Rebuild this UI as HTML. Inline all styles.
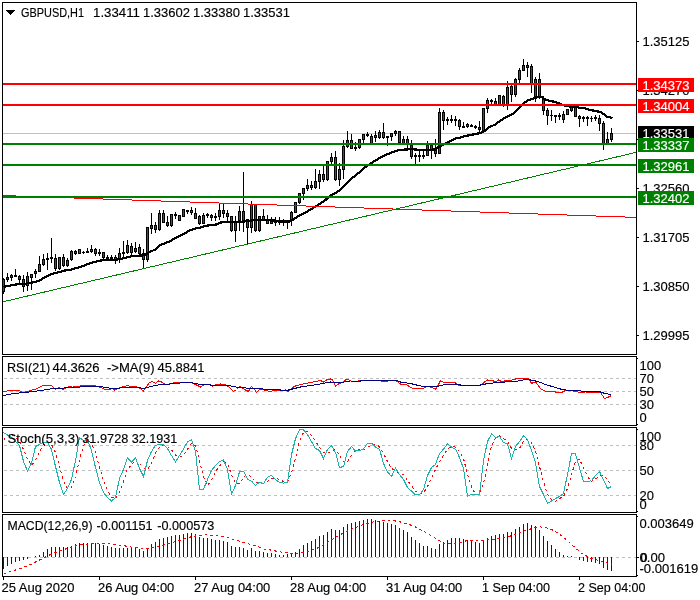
<!DOCTYPE html>
<html><head><meta charset="utf-8"><title>GBPUSD,H1</title>
<style>html,body{margin:0;padding:0;background:#fff}svg{display:block}text{font-family:"Liberation Sans",sans-serif;font-size:13px;fill:#000;stroke:#000;stroke-width:.15px}.w{fill:#fff;stroke:#fff}</style>
</head><body>
<svg width="700" height="600" viewBox="0 0 700 600">
<rect width="700" height="600" fill="#fff"/>
<g shape-rendering="crispEdges">
<rect x="2.5" y="2.5" width="634" height="352" fill="none" stroke="#000" stroke-width="1"/>
<rect x="2.5" y="356.5" width="634" height="69" fill="none" stroke="#000" stroke-width="1"/>
<rect x="2.5" y="427.5" width="634" height="85" fill="none" stroke="#000" stroke-width="1"/>
<rect x="2.5" y="514.5" width="634" height="62" fill="none" stroke="#000" stroke-width="1"/>
<rect x="3" y="133" width="633" height="1" fill="#c0c0c0"/>
<line x1="4" y1="378.5" x2="636" y2="378.5" stroke="#c0c0c0" stroke-width="1" stroke-dasharray="3 3"/>
<line x1="4" y1="391.5" x2="636" y2="391.5" stroke="#c0c0c0" stroke-width="1" stroke-dasharray="3 3"/>
<line x1="4" y1="404.5" x2="636" y2="404.5" stroke="#c0c0c0" stroke-width="1" stroke-dasharray="3 3"/>
<line x1="4" y1="445.5" x2="636" y2="445.5" stroke="#c0c0c0" stroke-width="1" stroke-dasharray="3 3"/>
<line x1="4" y1="470.5" x2="636" y2="470.5" stroke="#c0c0c0" stroke-width="1" stroke-dasharray="3 3"/>
<line x1="4" y1="495.5" x2="636" y2="495.5" stroke="#c0c0c0" stroke-width="1" stroke-dasharray="3 3"/>
<line x1="4" y1="557.5" x2="636" y2="557.5" stroke="#c0c0c0" stroke-width="1" stroke-dasharray="3 3"/>
<rect x="3" y="278" width="1" height="16"/>
<rect x="2" y="279" width="3" height="13"/>
<rect x="3" y="280" width="1" height="11" fill="#008000"/>
<rect x="7" y="273" width="1" height="9"/>
<rect x="6" y="277" width="3" height="3"/>
<rect x="7" y="278" width="1" height="1" fill="#008000"/>
<rect x="11" y="274" width="1" height="7"/>
<rect x="10" y="275" width="3" height="3"/>
<rect x="11" y="276" width="1" height="1" fill="#008000"/>
<rect x="15" y="269" width="1" height="8"/>
<rect x="14" y="275" width="3" height="2"/>
<rect x="19" y="275" width="1" height="8"/>
<rect x="18" y="276" width="3" height="4"/>
<rect x="19" y="277" width="1" height="2" fill="#ff0000"/>
<rect x="23" y="275" width="1" height="17"/>
<rect x="22" y="279" width="3" height="8"/>
<rect x="23" y="280" width="1" height="6" fill="#ff0000"/>
<rect x="27" y="272" width="1" height="19"/>
<rect x="26" y="276" width="3" height="10"/>
<rect x="27" y="277" width="1" height="8" fill="#008000"/>
<rect x="31" y="274" width="1" height="16"/>
<rect x="30" y="274" width="3" height="4"/>
<rect x="31" y="275" width="1" height="2" fill="#008000"/>
<rect x="35" y="269" width="1" height="9"/>
<rect x="34" y="271" width="3" height="3"/>
<rect x="35" y="272" width="1" height="1" fill="#008000"/>
<rect x="39" y="256" width="1" height="16"/>
<rect x="38" y="264" width="3" height="8"/>
<rect x="39" y="265" width="1" height="6" fill="#008000"/>
<rect x="43" y="254" width="1" height="12"/>
<rect x="42" y="259" width="3" height="6"/>
<rect x="43" y="260" width="1" height="4" fill="#008000"/>
<rect x="47" y="253" width="1" height="17"/>
<rect x="46" y="258" width="3" height="2"/>
<rect x="51" y="238" width="1" height="25"/>
<rect x="50" y="257" width="3" height="2"/>
<rect x="55" y="254" width="1" height="17"/>
<rect x="54" y="258" width="3" height="11"/>
<rect x="55" y="259" width="1" height="9" fill="#ff0000"/>
<rect x="59" y="257" width="1" height="13"/>
<rect x="58" y="257" width="3" height="12"/>
<rect x="59" y="258" width="1" height="10" fill="#008000"/>
<rect x="63" y="254" width="1" height="13"/>
<rect x="62" y="257" width="3" height="9"/>
<rect x="63" y="258" width="1" height="7" fill="#ff0000"/>
<rect x="67" y="258" width="1" height="9"/>
<rect x="66" y="260" width="3" height="6"/>
<rect x="67" y="261" width="1" height="4" fill="#008000"/>
<rect x="71" y="250" width="1" height="11"/>
<rect x="70" y="251" width="3" height="9"/>
<rect x="71" y="252" width="1" height="7" fill="#008000"/>
<rect x="75" y="250" width="1" height="5"/>
<rect x="74" y="251" width="3" height="3"/>
<rect x="75" y="252" width="1" height="1" fill="#ff0000"/>
<rect x="79" y="249" width="1" height="5"/>
<rect x="78" y="249" width="3" height="5"/>
<rect x="79" y="250" width="1" height="3" fill="#008000"/>
<rect x="83" y="251" width="1" height="3"/>
<rect x="82" y="252" width="3" height="1"/>
<rect x="87" y="248" width="1" height="5"/>
<rect x="86" y="251" width="3" height="2"/>
<rect x="91" y="245" width="1" height="8"/>
<rect x="90" y="249" width="3" height="3"/>
<rect x="91" y="250" width="1" height="1" fill="#008000"/>
<rect x="95" y="248" width="1" height="8"/>
<rect x="94" y="249" width="3" height="5"/>
<rect x="95" y="250" width="1" height="3" fill="#ff0000"/>
<rect x="99" y="249" width="1" height="7"/>
<rect x="98" y="252" width="3" height="2"/>
<rect x="103" y="252" width="1" height="7"/>
<rect x="102" y="252" width="3" height="6"/>
<rect x="103" y="253" width="1" height="4" fill="#ff0000"/>
<rect x="107" y="255" width="1" height="4"/>
<rect x="106" y="257" width="3" height="2"/>
<rect x="111" y="255" width="1" height="4"/>
<rect x="110" y="257" width="3" height="2"/>
<rect x="115" y="255" width="1" height="9"/>
<rect x="114" y="257" width="3" height="3"/>
<rect x="115" y="258" width="1" height="1" fill="#ff0000"/>
<rect x="119" y="248" width="1" height="15"/>
<rect x="118" y="253" width="3" height="6"/>
<rect x="119" y="254" width="1" height="4" fill="#008000"/>
<rect x="123" y="241" width="1" height="18"/>
<rect x="122" y="252" width="3" height="2"/>
<rect x="127" y="240" width="1" height="14"/>
<rect x="126" y="245" width="3" height="8"/>
<rect x="127" y="246" width="1" height="6" fill="#008000"/>
<rect x="131" y="243" width="1" height="13"/>
<rect x="130" y="246" width="3" height="7"/>
<rect x="131" y="247" width="1" height="5" fill="#ff0000"/>
<rect x="135" y="242" width="1" height="11"/>
<rect x="134" y="248" width="3" height="4"/>
<rect x="135" y="249" width="1" height="2" fill="#008000"/>
<rect x="139" y="244" width="1" height="12"/>
<rect x="138" y="247" width="3" height="7"/>
<rect x="139" y="248" width="1" height="5" fill="#ff0000"/>
<rect x="143" y="249" width="1" height="20"/>
<rect x="142" y="253" width="3" height="7"/>
<rect x="143" y="254" width="1" height="5" fill="#ff0000"/>
<rect x="147" y="227" width="1" height="35"/>
<rect x="146" y="227" width="3" height="33"/>
<rect x="147" y="228" width="1" height="31" fill="#008000"/>
<rect x="151" y="213" width="1" height="21"/>
<rect x="150" y="225" width="3" height="4"/>
<rect x="151" y="226" width="1" height="2" fill="#008000"/>
<rect x="155" y="222" width="1" height="11"/>
<rect x="154" y="225" width="3" height="5"/>
<rect x="155" y="226" width="1" height="3" fill="#ff0000"/>
<rect x="159" y="210" width="1" height="21"/>
<rect x="158" y="213" width="3" height="17"/>
<rect x="159" y="214" width="1" height="15" fill="#008000"/>
<rect x="163" y="210" width="1" height="13"/>
<rect x="162" y="213" width="3" height="10"/>
<rect x="163" y="214" width="1" height="8" fill="#ff0000"/>
<rect x="167" y="216" width="1" height="11"/>
<rect x="166" y="222" width="3" height="4"/>
<rect x="167" y="223" width="1" height="2" fill="#ff0000"/>
<rect x="171" y="214" width="1" height="13"/>
<rect x="170" y="214" width="3" height="12"/>
<rect x="171" y="215" width="1" height="10" fill="#008000"/>
<rect x="175" y="212" width="1" height="7"/>
<rect x="174" y="214" width="3" height="2"/>
<rect x="179" y="215" width="1" height="6"/>
<rect x="178" y="215" width="3" height="6"/>
<rect x="179" y="216" width="1" height="4" fill="#008000"/>
<rect x="183" y="209" width="1" height="8"/>
<rect x="182" y="209" width="3" height="8"/>
<rect x="183" y="210" width="1" height="6" fill="#008000"/>
<rect x="187" y="210" width="1" height="4"/>
<rect x="186" y="210" width="3" height="2"/>
<rect x="191" y="207" width="1" height="8"/>
<rect x="190" y="210" width="3" height="3"/>
<rect x="191" y="211" width="1" height="1" fill="#ff0000"/>
<rect x="195" y="208" width="1" height="11"/>
<rect x="194" y="213" width="3" height="6"/>
<rect x="195" y="214" width="1" height="4" fill="#ff0000"/>
<rect x="199" y="215" width="1" height="10"/>
<rect x="198" y="216" width="3" height="8"/>
<rect x="199" y="217" width="1" height="6" fill="#ff0000"/>
<rect x="203" y="213" width="1" height="11"/>
<rect x="202" y="215" width="3" height="9"/>
<rect x="203" y="216" width="1" height="7" fill="#008000"/>
<rect x="207" y="213" width="1" height="5"/>
<rect x="206" y="214" width="3" height="2"/>
<rect x="211" y="214" width="1" height="7"/>
<rect x="210" y="215" width="3" height="3"/>
<rect x="211" y="216" width="1" height="1" fill="#ff0000"/>
<rect x="215" y="213" width="1" height="8"/>
<rect x="214" y="216" width="3" height="2"/>
<rect x="219" y="204" width="1" height="16"/>
<rect x="218" y="210" width="3" height="7"/>
<rect x="219" y="211" width="1" height="5" fill="#008000"/>
<rect x="223" y="204" width="1" height="14"/>
<rect x="222" y="210" width="3" height="4"/>
<rect x="223" y="211" width="1" height="2" fill="#ff0000"/>
<rect x="227" y="210" width="1" height="11"/>
<rect x="226" y="213" width="3" height="4"/>
<rect x="227" y="214" width="1" height="2" fill="#ff0000"/>
<rect x="231" y="216" width="1" height="16"/>
<rect x="230" y="216" width="3" height="15"/>
<rect x="231" y="217" width="1" height="13" fill="#ff0000"/>
<rect x="235" y="216" width="1" height="26"/>
<rect x="234" y="222" width="3" height="9"/>
<rect x="235" y="223" width="1" height="7" fill="#008000"/>
<rect x="239" y="206" width="1" height="25"/>
<rect x="238" y="211" width="3" height="10"/>
<rect x="239" y="212" width="1" height="8" fill="#008000"/>
<rect x="243" y="172" width="1" height="60"/>
<rect x="242" y="211" width="3" height="10"/>
<rect x="243" y="212" width="1" height="8" fill="#ff0000"/>
<rect x="247" y="219" width="1" height="25"/>
<rect x="246" y="219" width="3" height="9"/>
<rect x="247" y="220" width="1" height="7" fill="#ff0000"/>
<rect x="251" y="201" width="1" height="32"/>
<rect x="250" y="204" width="3" height="24"/>
<rect x="251" y="205" width="1" height="22" fill="#008000"/>
<rect x="255" y="204" width="1" height="28"/>
<rect x="254" y="204" width="3" height="27"/>
<rect x="255" y="205" width="1" height="25" fill="#ff0000"/>
<rect x="259" y="216" width="1" height="16"/>
<rect x="258" y="216" width="3" height="15"/>
<rect x="259" y="217" width="1" height="13" fill="#008000"/>
<rect x="263" y="209" width="1" height="11"/>
<rect x="262" y="216" width="3" height="4"/>
<rect x="263" y="217" width="1" height="2" fill="#ff0000"/>
<rect x="267" y="215" width="1" height="9"/>
<rect x="266" y="220" width="3" height="4"/>
<rect x="267" y="221" width="1" height="2" fill="#ff0000"/>
<rect x="271" y="217" width="1" height="7"/>
<rect x="270" y="221" width="3" height="3"/>
<rect x="271" y="222" width="1" height="1" fill="#008000"/>
<rect x="275" y="217" width="1" height="9"/>
<rect x="274" y="221" width="3" height="2"/>
<rect x="279" y="217" width="1" height="8"/>
<rect x="278" y="220" width="3" height="3"/>
<rect x="283" y="219" width="1" height="7"/>
<rect x="282" y="221" width="3" height="2"/>
<rect x="287" y="221" width="1" height="8"/>
<rect x="286" y="221" width="3" height="2"/>
<rect x="291" y="211" width="1" height="15"/>
<rect x="290" y="212" width="3" height="9"/>
<rect x="291" y="213" width="1" height="7" fill="#008000"/>
<rect x="295" y="202" width="1" height="11"/>
<rect x="294" y="202" width="3" height="11"/>
<rect x="295" y="203" width="1" height="9" fill="#008000"/>
<rect x="299" y="193" width="1" height="11"/>
<rect x="298" y="193" width="3" height="10"/>
<rect x="299" y="194" width="1" height="8" fill="#008000"/>
<rect x="303" y="188" width="1" height="12"/>
<rect x="302" y="188" width="3" height="6"/>
<rect x="303" y="189" width="1" height="4" fill="#008000"/>
<rect x="307" y="179" width="1" height="12"/>
<rect x="306" y="185" width="3" height="4"/>
<rect x="307" y="186" width="1" height="2" fill="#008000"/>
<rect x="311" y="181" width="1" height="9"/>
<rect x="310" y="185" width="3" height="3"/>
<rect x="311" y="186" width="1" height="1" fill="#ff0000"/>
<rect x="315" y="169" width="1" height="20"/>
<rect x="314" y="181" width="3" height="7"/>
<rect x="315" y="182" width="1" height="5" fill="#008000"/>
<rect x="319" y="170" width="1" height="19"/>
<rect x="318" y="174" width="3" height="8"/>
<rect x="319" y="175" width="1" height="6" fill="#008000"/>
<rect x="323" y="166" width="1" height="16"/>
<rect x="322" y="174" width="3" height="6"/>
<rect x="323" y="175" width="1" height="4" fill="#ff0000"/>
<rect x="327" y="161" width="1" height="20"/>
<rect x="326" y="161" width="3" height="19"/>
<rect x="327" y="162" width="1" height="17" fill="#008000"/>
<rect x="331" y="153" width="1" height="11"/>
<rect x="330" y="157" width="3" height="5"/>
<rect x="331" y="158" width="1" height="3" fill="#008000"/>
<rect x="335" y="151" width="1" height="30"/>
<rect x="334" y="157" width="3" height="23"/>
<rect x="335" y="158" width="1" height="21" fill="#ff0000"/>
<rect x="339" y="163" width="1" height="23"/>
<rect x="338" y="169" width="3" height="11"/>
<rect x="339" y="170" width="1" height="9" fill="#008000"/>
<rect x="343" y="140" width="1" height="39"/>
<rect x="342" y="146" width="3" height="24"/>
<rect x="343" y="147" width="1" height="22" fill="#008000"/>
<rect x="347" y="131" width="1" height="17"/>
<rect x="346" y="140" width="3" height="7"/>
<rect x="347" y="141" width="1" height="5" fill="#008000"/>
<rect x="351" y="134" width="1" height="15"/>
<rect x="350" y="140" width="3" height="9"/>
<rect x="351" y="141" width="1" height="7" fill="#ff0000"/>
<rect x="355" y="142" width="1" height="9"/>
<rect x="354" y="147" width="3" height="2"/>
<rect x="359" y="139" width="1" height="10"/>
<rect x="358" y="139" width="3" height="9"/>
<rect x="359" y="140" width="1" height="7" fill="#008000"/>
<rect x="363" y="134" width="1" height="9"/>
<rect x="362" y="134" width="3" height="6"/>
<rect x="363" y="135" width="1" height="4" fill="#008000"/>
<rect x="367" y="132" width="1" height="5"/>
<rect x="366" y="134" width="3" height="2"/>
<rect x="371" y="134" width="1" height="10"/>
<rect x="370" y="136" width="3" height="8"/>
<rect x="371" y="137" width="1" height="6" fill="#008000"/>
<rect x="375" y="131" width="1" height="11"/>
<rect x="374" y="135" width="3" height="3"/>
<rect x="375" y="136" width="1" height="1" fill="#ff0000"/>
<rect x="379" y="130" width="1" height="9"/>
<rect x="378" y="132" width="3" height="6"/>
<rect x="379" y="133" width="1" height="4" fill="#008000"/>
<rect x="383" y="123" width="1" height="16"/>
<rect x="382" y="132" width="3" height="6"/>
<rect x="383" y="133" width="1" height="4" fill="#ff0000"/>
<rect x="387" y="136" width="1" height="10"/>
<rect x="386" y="136" width="3" height="2"/>
<rect x="391" y="133" width="1" height="8"/>
<rect x="390" y="133" width="3" height="4"/>
<rect x="391" y="134" width="1" height="2" fill="#008000"/>
<rect x="395" y="130" width="1" height="6"/>
<rect x="394" y="131" width="3" height="3"/>
<rect x="395" y="132" width="1" height="1" fill="#008000"/>
<rect x="399" y="131" width="1" height="12"/>
<rect x="398" y="131" width="3" height="12"/>
<rect x="399" y="132" width="1" height="10" fill="#ff0000"/>
<rect x="403" y="136" width="1" height="8"/>
<rect x="402" y="139" width="3" height="5"/>
<rect x="403" y="140" width="1" height="3" fill="#008000"/>
<rect x="407" y="136" width="1" height="15"/>
<rect x="406" y="139" width="3" height="5"/>
<rect x="407" y="140" width="1" height="3" fill="#ff0000"/>
<rect x="411" y="140" width="1" height="19"/>
<rect x="410" y="145" width="3" height="12"/>
<rect x="411" y="146" width="1" height="10" fill="#ff0000"/>
<rect x="415" y="153" width="1" height="12"/>
<rect x="414" y="155" width="3" height="2"/>
<rect x="419" y="150" width="1" height="12"/>
<rect x="418" y="155" width="3" height="2"/>
<rect x="423" y="150" width="1" height="9"/>
<rect x="422" y="155" width="3" height="2"/>
<rect x="427" y="141" width="1" height="15"/>
<rect x="426" y="145" width="3" height="11"/>
<rect x="427" y="146" width="1" height="9" fill="#008000"/>
<rect x="431" y="145" width="1" height="14"/>
<rect x="430" y="145" width="3" height="5"/>
<rect x="431" y="146" width="1" height="3" fill="#ff0000"/>
<rect x="435" y="139" width="1" height="18"/>
<rect x="434" y="150" width="3" height="4"/>
<rect x="435" y="151" width="1" height="2" fill="#ff0000"/>
<rect x="439" y="108" width="1" height="46"/>
<rect x="438" y="112" width="3" height="42"/>
<rect x="439" y="113" width="1" height="40" fill="#008000"/>
<rect x="443" y="110" width="1" height="20"/>
<rect x="442" y="112" width="3" height="9"/>
<rect x="443" y="113" width="1" height="7" fill="#ff0000"/>
<rect x="447" y="117" width="1" height="8"/>
<rect x="446" y="119" width="3" height="2"/>
<rect x="451" y="115" width="1" height="8"/>
<rect x="450" y="119" width="3" height="2"/>
<rect x="455" y="116" width="1" height="10"/>
<rect x="454" y="119" width="3" height="2"/>
<rect x="459" y="119" width="1" height="11"/>
<rect x="458" y="120" width="3" height="7"/>
<rect x="459" y="121" width="1" height="5" fill="#ff0000"/>
<rect x="463" y="122" width="1" height="6"/>
<rect x="462" y="126" width="3" height="2"/>
<rect x="467" y="123" width="1" height="5"/>
<rect x="466" y="124" width="3" height="3"/>
<rect x="467" y="125" width="1" height="1" fill="#ff0000"/>
<rect x="471" y="124" width="1" height="3"/>
<rect x="470" y="125" width="3" height="2"/>
<rect x="475" y="125" width="1" height="4"/>
<rect x="474" y="126" width="3" height="2"/>
<rect x="479" y="121" width="1" height="13"/>
<rect x="478" y="127" width="3" height="3"/>
<rect x="479" y="128" width="1" height="1" fill="#ff0000"/>
<rect x="483" y="108" width="1" height="24"/>
<rect x="482" y="108" width="3" height="23"/>
<rect x="483" y="109" width="1" height="21" fill="#008000"/>
<rect x="487" y="98" width="1" height="15"/>
<rect x="486" y="100" width="3" height="9"/>
<rect x="487" y="101" width="1" height="7" fill="#008000"/>
<rect x="491" y="99" width="1" height="6"/>
<rect x="490" y="100" width="3" height="2"/>
<rect x="495" y="98" width="1" height="7"/>
<rect x="494" y="101" width="3" height="4"/>
<rect x="495" y="102" width="1" height="2" fill="#ff0000"/>
<rect x="499" y="95" width="1" height="10"/>
<rect x="498" y="95" width="3" height="10"/>
<rect x="499" y="96" width="1" height="8" fill="#008000"/>
<rect x="503" y="95" width="1" height="12"/>
<rect x="502" y="96" width="3" height="9"/>
<rect x="503" y="97" width="1" height="7" fill="#ff0000"/>
<rect x="507" y="81" width="1" height="29"/>
<rect x="506" y="87" width="3" height="18"/>
<rect x="507" y="88" width="1" height="16" fill="#008000"/>
<rect x="511" y="85" width="1" height="17"/>
<rect x="510" y="86" width="3" height="9"/>
<rect x="511" y="87" width="1" height="7" fill="#ff0000"/>
<rect x="515" y="78" width="1" height="19"/>
<rect x="514" y="79" width="3" height="16"/>
<rect x="515" y="80" width="1" height="14" fill="#008000"/>
<rect x="519" y="68" width="1" height="15"/>
<rect x="518" y="70" width="3" height="10"/>
<rect x="519" y="71" width="1" height="8" fill="#008000"/>
<rect x="523" y="59" width="1" height="12"/>
<rect x="522" y="65" width="3" height="6"/>
<rect x="523" y="66" width="1" height="4" fill="#008000"/>
<rect x="527" y="62" width="1" height="15"/>
<rect x="526" y="65" width="3" height="3"/>
<rect x="527" y="66" width="1" height="1" fill="#ff0000"/>
<rect x="531" y="64" width="1" height="29"/>
<rect x="530" y="66" width="3" height="18"/>
<rect x="531" y="67" width="1" height="16" fill="#ff0000"/>
<rect x="535" y="77" width="1" height="25"/>
<rect x="534" y="79" width="3" height="18"/>
<rect x="535" y="80" width="1" height="16" fill="#008000"/>
<rect x="539" y="73" width="1" height="26"/>
<rect x="538" y="79" width="3" height="19"/>
<rect x="539" y="80" width="1" height="17" fill="#ff0000"/>
<rect x="543" y="96" width="1" height="19"/>
<rect x="542" y="99" width="3" height="12"/>
<rect x="543" y="100" width="1" height="10" fill="#ff0000"/>
<rect x="547" y="108" width="1" height="17"/>
<rect x="546" y="110" width="3" height="6"/>
<rect x="547" y="111" width="1" height="4" fill="#ff0000"/>
<rect x="551" y="110" width="1" height="11"/>
<rect x="550" y="115" width="3" height="1"/>
<rect x="555" y="115" width="1" height="8"/>
<rect x="554" y="115" width="3" height="2"/>
<rect x="559" y="113" width="1" height="7"/>
<rect x="558" y="115" width="3" height="2"/>
<rect x="563" y="111" width="1" height="12"/>
<rect x="562" y="114" width="3" height="6"/>
<rect x="563" y="115" width="1" height="4" fill="#ff0000"/>
<rect x="567" y="109" width="1" height="6"/>
<rect x="566" y="109" width="3" height="6"/>
<rect x="567" y="110" width="1" height="4" fill="#008000"/>
<rect x="571" y="107" width="1" height="5"/>
<rect x="570" y="107" width="3" height="4"/>
<rect x="571" y="108" width="1" height="2" fill="#008000"/>
<rect x="575" y="107" width="1" height="10"/>
<rect x="574" y="107" width="3" height="10"/>
<rect x="575" y="108" width="1" height="8" fill="#ff0000"/>
<rect x="579" y="115" width="1" height="12"/>
<rect x="578" y="116" width="3" height="3"/>
<rect x="579" y="117" width="1" height="1" fill="#ff0000"/>
<rect x="583" y="116" width="1" height="6"/>
<rect x="582" y="117" width="3" height="2"/>
<rect x="587" y="116" width="1" height="10"/>
<rect x="586" y="117" width="3" height="2"/>
<rect x="591" y="116" width="1" height="6"/>
<rect x="590" y="118" width="3" height="1"/>
<rect x="595" y="115" width="1" height="6"/>
<rect x="594" y="117" width="3" height="2"/>
<rect x="599" y="115" width="1" height="16"/>
<rect x="598" y="118" width="3" height="6"/>
<rect x="599" y="119" width="1" height="4" fill="#ff0000"/>
<rect x="603" y="121" width="1" height="29"/>
<rect x="602" y="123" width="3" height="21"/>
<rect x="603" y="124" width="1" height="19" fill="#ff0000"/>
<rect x="607" y="132" width="1" height="12"/>
<rect x="606" y="139" width="3" height="5"/>
<rect x="607" y="140" width="1" height="3" fill="#008000"/>
<rect x="611" y="128" width="1" height="14"/>
<rect x="610" y="133" width="3" height="7"/>
<rect x="611" y="134" width="1" height="5" fill="#008000"/>
<polyline points="3.5,287.0 15.5,284.5 23.5,284.0 35.5,282.0 39.5,280.5 43.5,278.0 47.5,276.0 51.5,274.0 55.5,273.0 59.5,272.0 63.5,270.8 67.5,270.0 70.5,269.7 80.5,267.0 90.5,263.0 100.5,260.5 110.5,259.8 115.5,259.8 120.5,259.0 125.5,257.8 130.5,256.5 135.5,255.8 140.5,255.5 145.5,255.0 147.5,253.0 150.5,251.5 155.5,249.5 160.5,245.0 165.5,243.0 170.5,241.0 175.5,238.0 180.5,235.5 185.5,233.0 190.5,230.0 195.5,228.5 200.5,227.5 205.5,226.0 210.5,225.0 216.5,224.5 220.5,222.5 225.5,222.0 240.5,222.0 250.5,220.5 260.5,220.0 270.5,220.0 280.5,221.5 289.5,221.5 292.5,220.0 295.5,218.0 300.5,215.0 305.5,212.5 310.5,209.5 315.5,206.5 320.5,203.5 325.5,200.0 328.5,197.0 330.5,195.5 335.5,193.0 340.5,189.8 343.5,187.0 346.5,183.5 350.5,179.5 355.5,175.5 360.5,171.5 365.5,167.0 370.5,163.5 375.5,160.5 380.5,157.5 385.5,155.0 390.5,153.0 395.5,151.0 400.5,149.8 405.5,149.5 410.5,149.0 415.5,149.5 420.5,150.0 430.5,150.0 435.5,149.0 440.5,146.0 445.5,143.5 450.5,141.0 455.5,138.5 460.5,137.5 465.5,136.0 470.5,135.0 475.5,134.0 480.5,133.0 484.5,131.0 487.5,128.5 490.5,126.5 495.5,124.5 500.5,120.5 505.5,117.5 510.5,115.0 514.5,113.0 517.5,109.5 520.5,106.5 525.5,102.0 528.5,100.0 532.5,99.0 536.5,97.5 539.5,96.8 541.5,97.2 545.5,99.5 550.5,101.0 555.5,102.0 560.5,104.0 565.5,106.0 570.5,106.5 575.5,107.0 580.5,107.8 585.5,108.5 590.5,110.0 595.5,111.0 600.5,112.0 603.5,114.0 605.5,115.5 607.5,117.0 610.5,117.5 612.5,118.0" fill="none" stroke="#000" stroke-width="2.2" stroke-linejoin="round"/>
<line x1="3" y1="301.8" x2="636" y2="152.4" stroke="#008000" stroke-width="1"/>
<line x1="3" y1="195.55" x2="636" y2="217.4" stroke="#ff0000" stroke-width="1"/>
<rect x="3" y="83" width="634" height="2" fill="#ff0000"/>
<rect x="3" y="104" width="634" height="2" fill="#ff0000"/>
<rect x="3" y="143" width="634" height="2" fill="#008000"/>
<rect x="3" y="164" width="634" height="2" fill="#008000"/>
<rect x="3" y="196" width="634" height="2" fill="#008000"/>
<rect x="636" y="2" width="1" height="353"/>
<rect x="637" y="41" width="2" height="1"/>
<rect x="637" y="90" width="2" height="1"/>
<rect x="637" y="139" width="2" height="1"/>
<rect x="637" y="188" width="2" height="1"/>
<rect x="637" y="237" width="2" height="1"/>
<rect x="637" y="286" width="2" height="1"/>
<rect x="637" y="335" width="2" height="1"/>
<rect x="637" y="358" width="1" height="1"/>
<rect x="637" y="424" width="1" height="1"/>
<rect x="637" y="429" width="1" height="1"/>
<rect x="637" y="511" width="1" height="1"/>
<rect x="637" y="516" width="1" height="1"/>
<rect x="637" y="575" width="1" height="1"/>
<rect x="637" y="557" width="2" height="1"/>
<rect x="3" y="577" width="1" height="3"/>
<rect x="99" y="577" width="1" height="3"/>
<rect x="195" y="577" width="1" height="3"/>
<rect x="291" y="577" width="1" height="3"/>
<rect x="387" y="577" width="1" height="3"/>
<rect x="483" y="577" width="1" height="3"/>
<rect x="579" y="577" width="1" height="3"/>
<rect x="6" y="10" width="9" height="1"/>
<rect x="7" y="11" width="7" height="1"/>
<rect x="8" y="12" width="5" height="1"/>
<rect x="9" y="13" width="3" height="1"/>
<rect x="10" y="14" width="1" height="1"/>
<rect x="3" y="557" width="1" height="12" fill="#0000ff"/>
<rect x="7" y="557" width="1" height="9" fill="#0000ff"/>
<rect x="11" y="557" width="1" height="7" fill="#0000ff"/>
<rect x="15" y="557" width="1" height="5" fill="#0000ff"/>
<rect x="19" y="557" width="1" height="4" fill="#0000ff"/>
<rect x="23" y="557" width="1" height="3" fill="#0000ff"/>
<rect x="27" y="557" width="1" height="2" fill="#0000ff"/>
<rect x="35" y="556" width="1" height="1" fill="#0000ff"/>
<rect x="39" y="555" width="1" height="2" fill="#0000ff"/>
<rect x="43" y="552" width="1" height="5" fill="#0000ff"/>
<rect x="47" y="549" width="1" height="8" fill="#0000ff"/>
<rect x="51" y="547" width="1" height="10" fill="#0000ff"/>
<rect x="55" y="547" width="1" height="10" fill="#0000ff"/>
<rect x="59" y="547" width="1" height="10" fill="#0000ff"/>
<rect x="63" y="547" width="1" height="10" fill="#0000ff"/>
<rect x="67" y="547" width="1" height="10" fill="#0000ff"/>
<rect x="71" y="546" width="1" height="11" fill="#0000ff"/>
<rect x="75" y="544" width="1" height="13" fill="#0000ff"/>
<rect x="79" y="543" width="1" height="14" fill="#0000ff"/>
<rect x="83" y="543" width="1" height="14" fill="#0000ff"/>
<rect x="87" y="543" width="1" height="14" fill="#0000ff"/>
<rect x="91" y="543" width="1" height="14" fill="#0000ff"/>
<rect x="95" y="543" width="1" height="14" fill="#0000ff"/>
<rect x="99" y="544" width="1" height="13" fill="#0000ff"/>
<rect x="103" y="545" width="1" height="12" fill="#0000ff"/>
<rect x="107" y="546" width="1" height="11" fill="#0000ff"/>
<rect x="111" y="547" width="1" height="10" fill="#0000ff"/>
<rect x="115" y="548" width="1" height="9" fill="#0000ff"/>
<rect x="119" y="548" width="1" height="9" fill="#0000ff"/>
<rect x="123" y="548" width="1" height="9" fill="#0000ff"/>
<rect x="127" y="548" width="1" height="9" fill="#0000ff"/>
<rect x="131" y="548" width="1" height="9" fill="#0000ff"/>
<rect x="135" y="548" width="1" height="9" fill="#0000ff"/>
<rect x="139" y="549" width="1" height="8" fill="#0000ff"/>
<rect x="143" y="551" width="1" height="6" fill="#0000ff"/>
<rect x="147" y="548" width="1" height="9" fill="#0000ff"/>
<rect x="151" y="544" width="1" height="13" fill="#0000ff"/>
<rect x="155" y="542" width="1" height="15" fill="#0000ff"/>
<rect x="159" y="539" width="1" height="18" fill="#0000ff"/>
<rect x="163" y="538" width="1" height="19" fill="#0000ff"/>
<rect x="167" y="537" width="1" height="20" fill="#0000ff"/>
<rect x="171" y="536" width="1" height="21" fill="#0000ff"/>
<rect x="175" y="535" width="1" height="22" fill="#0000ff"/>
<rect x="179" y="535" width="1" height="22" fill="#0000ff"/>
<rect x="183" y="534" width="1" height="23" fill="#0000ff"/>
<rect x="187" y="533" width="1" height="24" fill="#0000ff"/>
<rect x="191" y="533" width="1" height="24" fill="#0000ff"/>
<rect x="195" y="534" width="1" height="23" fill="#0000ff"/>
<rect x="199" y="537" width="1" height="20" fill="#0000ff"/>
<rect x="203" y="538" width="1" height="19" fill="#0000ff"/>
<rect x="207" y="538" width="1" height="19" fill="#0000ff"/>
<rect x="211" y="539" width="1" height="18" fill="#0000ff"/>
<rect x="215" y="540" width="1" height="17" fill="#0000ff"/>
<rect x="219" y="540" width="1" height="17" fill="#0000ff"/>
<rect x="223" y="541" width="1" height="16" fill="#0000ff"/>
<rect x="227" y="542" width="1" height="15" fill="#0000ff"/>
<rect x="231" y="546" width="1" height="11" fill="#0000ff"/>
<rect x="235" y="547" width="1" height="10" fill="#0000ff"/>
<rect x="239" y="547" width="1" height="10" fill="#0000ff"/>
<rect x="243" y="548" width="1" height="9" fill="#0000ff"/>
<rect x="247" y="550" width="1" height="7" fill="#0000ff"/>
<rect x="251" y="548" width="1" height="9" fill="#0000ff"/>
<rect x="255" y="551" width="1" height="6" fill="#0000ff"/>
<rect x="259" y="551" width="1" height="6" fill="#0000ff"/>
<rect x="263" y="552" width="1" height="5" fill="#0000ff"/>
<rect x="267" y="553" width="1" height="4" fill="#0000ff"/>
<rect x="271" y="553" width="1" height="4" fill="#0000ff"/>
<rect x="275" y="554" width="1" height="3" fill="#0000ff"/>
<rect x="279" y="555" width="1" height="2" fill="#0000ff"/>
<rect x="283" y="555" width="1" height="2" fill="#0000ff"/>
<rect x="287" y="554" width="1" height="3" fill="#0000ff"/>
<rect x="291" y="554" width="1" height="3" fill="#0000ff"/>
<rect x="295" y="552" width="1" height="5" fill="#0000ff"/>
<rect x="299" y="549" width="1" height="8" fill="#0000ff"/>
<rect x="303" y="545" width="1" height="12" fill="#0000ff"/>
<rect x="307" y="543" width="1" height="14" fill="#0000ff"/>
<rect x="311" y="541" width="1" height="16" fill="#0000ff"/>
<rect x="315" y="539" width="1" height="18" fill="#0000ff"/>
<rect x="319" y="536" width="1" height="21" fill="#0000ff"/>
<rect x="323" y="535" width="1" height="22" fill="#0000ff"/>
<rect x="327" y="532" width="1" height="25" fill="#0000ff"/>
<rect x="331" y="529" width="1" height="28" fill="#0000ff"/>
<rect x="335" y="530" width="1" height="27" fill="#0000ff"/>
<rect x="339" y="530" width="1" height="27" fill="#0000ff"/>
<rect x="343" y="527" width="1" height="30" fill="#0000ff"/>
<rect x="347" y="524" width="1" height="33" fill="#0000ff"/>
<rect x="351" y="523" width="1" height="34" fill="#0000ff"/>
<rect x="355" y="522" width="1" height="35" fill="#0000ff"/>
<rect x="359" y="521" width="1" height="36" fill="#0000ff"/>
<rect x="363" y="520" width="1" height="37" fill="#0000ff"/>
<rect x="367" y="519" width="1" height="38" fill="#0000ff"/>
<rect x="371" y="519" width="1" height="38" fill="#0000ff"/>
<rect x="375" y="520" width="1" height="37" fill="#0000ff"/>
<rect x="379" y="521" width="1" height="36" fill="#0000ff"/>
<rect x="383" y="522" width="1" height="35" fill="#0000ff"/>
<rect x="387" y="523" width="1" height="34" fill="#0000ff"/>
<rect x="391" y="524" width="1" height="33" fill="#0000ff"/>
<rect x="395" y="525" width="1" height="32" fill="#0000ff"/>
<rect x="399" y="528" width="1" height="29" fill="#0000ff"/>
<rect x="403" y="530" width="1" height="27" fill="#0000ff"/>
<rect x="407" y="532" width="1" height="25" fill="#0000ff"/>
<rect x="411" y="537" width="1" height="20" fill="#0000ff"/>
<rect x="415" y="540" width="1" height="17" fill="#0000ff"/>
<rect x="419" y="543" width="1" height="14" fill="#0000ff"/>
<rect x="423" y="546" width="1" height="11" fill="#0000ff"/>
<rect x="427" y="546" width="1" height="11" fill="#0000ff"/>
<rect x="431" y="548" width="1" height="9" fill="#0000ff"/>
<rect x="435" y="549" width="1" height="8" fill="#0000ff"/>
<rect x="439" y="544" width="1" height="13" fill="#0000ff"/>
<rect x="443" y="542" width="1" height="15" fill="#0000ff"/>
<rect x="447" y="540" width="1" height="17" fill="#0000ff"/>
<rect x="451" y="538" width="1" height="19" fill="#0000ff"/>
<rect x="455" y="538" width="1" height="19" fill="#0000ff"/>
<rect x="459" y="538" width="1" height="19" fill="#0000ff"/>
<rect x="463" y="539" width="1" height="18" fill="#0000ff"/>
<rect x="467" y="540" width="1" height="17" fill="#0000ff"/>
<rect x="471" y="541" width="1" height="16" fill="#0000ff"/>
<rect x="475" y="542" width="1" height="15" fill="#0000ff"/>
<rect x="479" y="543" width="1" height="14" fill="#0000ff"/>
<rect x="483" y="541" width="1" height="16" fill="#0000ff"/>
<rect x="487" y="538" width="1" height="19" fill="#0000ff"/>
<rect x="491" y="536" width="1" height="21" fill="#0000ff"/>
<rect x="495" y="535" width="1" height="22" fill="#0000ff"/>
<rect x="499" y="534" width="1" height="23" fill="#0000ff"/>
<rect x="503" y="534" width="1" height="23" fill="#0000ff"/>
<rect x="507" y="532" width="1" height="25" fill="#0000ff"/>
<rect x="511" y="532" width="1" height="25" fill="#0000ff"/>
<rect x="515" y="529" width="1" height="28" fill="#0000ff"/>
<rect x="519" y="527" width="1" height="30" fill="#0000ff"/>
<rect x="523" y="524" width="1" height="33" fill="#0000ff"/>
<rect x="527" y="523" width="1" height="34" fill="#0000ff"/>
<rect x="531" y="525" width="1" height="32" fill="#0000ff"/>
<rect x="535" y="526" width="1" height="31" fill="#0000ff"/>
<rect x="539" y="530" width="1" height="27" fill="#0000ff"/>
<rect x="543" y="536" width="1" height="21" fill="#0000ff"/>
<rect x="547" y="541" width="1" height="16" fill="#0000ff"/>
<rect x="551" y="545" width="1" height="12" fill="#0000ff"/>
<rect x="555" y="549" width="1" height="8" fill="#0000ff"/>
<rect x="559" y="552" width="1" height="5" fill="#0000ff"/>
<rect x="563" y="555" width="1" height="2" fill="#0000ff"/>
<rect x="567" y="556" width="1" height="1" fill="#0000ff"/>
<rect x="571" y="556" width="1" height="1" fill="#0000ff"/>
<rect x="579" y="557" width="1" height="3" fill="#0000ff"/>
<rect x="583" y="557" width="1" height="4" fill="#0000ff"/>
<rect x="587" y="557" width="1" height="5" fill="#0000ff"/>
<rect x="591" y="557" width="1" height="5" fill="#0000ff"/>
<rect x="595" y="557" width="1" height="6" fill="#0000ff"/>
<rect x="599" y="557" width="1" height="7" fill="#0000ff"/>
<rect x="603" y="557" width="1" height="11" fill="#0000ff"/>
<rect x="607" y="557" width="1" height="13" fill="#0000ff"/>
<rect x="611" y="557" width="1" height="14" fill="#0000ff"/>
<polyline points="3.5,391.5 10.5,390.5 18.5,390.5 23.5,392.5 30.5,390.5 37.5,388.5 42.5,385.5 51.5,385.5 55.5,389.5 58.5,387.5 63.5,389.5 68.5,386.5 72.5,386.0 80.5,386.0 85.5,385.5 93.5,385.5 98.5,386.5 100.5,387.5 105.5,389.5 108.5,390.0 112.5,388.5 114.5,390.0 117.5,388.5 122.5,387.0 127.5,385.5 131.5,387.0 135.5,386.5 140.5,388.5 143.5,391.0 146.5,386.5 149.5,382.5 152.5,381.5 155.5,383.5 158.5,381.0 161.5,382.0 164.5,384.0 167.5,384.5 170.5,383.5 175.5,382.5 180.5,382.5 185.5,382.0 190.5,382.0 193.5,383.5 197.5,385.5 200.5,387.0 203.5,385.0 208.5,384.5 212.5,386.0 215.5,385.0 220.5,384.0 225.5,385.0 228.5,386.5 231.5,389.5 233.5,391.5 236.5,389.5 239.5,386.5 242.5,388.0 245.5,390.0 248.5,391.5 251.5,386.5 254.5,389.5 256.5,392.5 259.5,389.5 262.5,389.0 265.5,390.5 270.5,391.5 275.5,390.0 280.5,391.0 285.5,390.0 288.5,391.5 292.5,387.5 295.5,386.0 300.5,384.5 305.5,383.5 310.5,382.5 315.5,381.5 320.5,380.5 323.5,382.0 326.5,380.0 330.5,379.0 332.5,380.0 335.5,386.0 338.5,384.0 342.5,382.5 345.5,380.0 348.5,379.5 350.5,381.0 355.5,381.5 360.5,380.5 365.5,380.0 375.5,380.0 380.5,381.0 385.5,381.5 390.5,380.5 396.5,381.0 400.5,384.0 405.5,384.0 408.5,386.0 412.5,388.5 423.5,388.5 426.5,386.5 430.5,387.0 435.5,389.0 437.5,386.5 440.5,380.5 443.5,382.5 455.5,382.5 458.5,385.0 465.5,385.0 473.5,385.5 480.5,385.5 484.5,382.0 487.5,380.0 492.5,380.5 495.5,382.0 498.5,380.0 502.5,382.0 505.5,380.5 510.5,380.5 515.5,379.0 520.5,378.0 527.5,378.0 529.5,379.5 531.5,383.5 533.5,382.5 536.5,383.0 540.5,388.5 543.5,390.5 546.5,391.5 555.5,392.0 562.5,392.0 565.5,390.5 570.5,390.5 575.5,391.5 580.5,392.5 585.5,392.0 590.5,392.5 600.5,392.5 602.5,395.5 604.5,398.5 607.5,397.5 610.5,396.0 611.5,395.5" fill="none" stroke="#ff0000" stroke-width="1"/>
<polyline points="3.5,395.5 13.5,393.5 25.5,392.5 40.5,390.5 50.5,389.0 70.5,387.5 80.5,387.0 100.5,386.5 105.5,387.5 112.5,388.5 120.5,388.0 130.5,387.5 140.5,388.0 143.5,388.5 150.5,386.5 158.5,385.0 170.5,384.0 180.5,383.0 190.5,382.5 195.5,383.5 200.5,384.5 210.5,385.0 220.5,385.0 228.5,385.5 235.5,387.0 245.5,388.0 255.5,388.5 262.5,389.0 270.5,389.5 280.5,390.0 288.5,390.0 292.5,389.0 300.5,387.0 310.5,385.5 320.5,384.0 330.5,382.0 335.5,382.5 340.5,383.0 345.5,381.5 350.5,381.0 360.5,381.0 370.5,380.5 380.5,380.5 396.5,380.5 400.5,382.0 410.5,383.5 420.5,386.0 430.5,386.5 435.5,387.0 440.5,385.5 445.5,384.5 455.5,384.0 460.5,385.0 480.5,385.0 485.5,384.0 490.5,383.5 495.5,382.5 505.5,382.0 515.5,381.5 520.5,380.5 525.5,379.5 530.5,380.0 535.5,381.0 540.5,382.5 545.5,384.5 550.5,386.0 555.5,387.5 560.5,389.0 565.5,390.0 575.5,390.5 580.5,391.0 590.5,391.5 600.5,392.0 603.5,393.0 607.5,394.0 611.5,394.5" fill="none" stroke="#000080" stroke-width="1"/>
<polyline points="3.5,440.5 7.5,435.5 11.5,434.0 15.5,437.5 19.5,441.5 23.5,449.5 27.5,459.0 31.5,465.5 35.5,460.5 39.5,451.5 43.5,444.5 47.5,442.5 51.5,444.5 55.5,452.5 59.5,466.5 63.5,481.0 67.5,488.5 71.5,487.5 75.5,476.5 79.5,459.5 83.5,446.0 87.5,439.0 91.5,443.5 95.5,452.5 99.5,467.0 103.5,480.5 107.5,490.5 111.5,497.0 115.5,498.5 119.5,492.5 123.5,482.0 127.5,468.5 131.5,465.5 135.5,459.5 139.5,463.5 143.5,467.9 147.5,469.1 151.5,463.5 155.5,452.5 159.5,447.1 163.5,445.1 167.5,446.5 171.5,449.9 175.5,455.1 179.5,457.5 183.5,455.1 187.5,449.1 191.5,443.5 195.5,445.5 199.5,460.5 203.5,477.1 207.5,485.5 211.5,479.9 215.5,471.9 219.5,465.9 223.5,461.9 227.5,463.9 231.5,474.5 235.5,483.5 239.5,483.5 243.5,477.5 247.5,473.9 251.5,477.1 255.5,482.1 259.5,483.1 263.5,483.5 267.5,481.5 271.5,478.5 275.5,477.9 279.5,479.5 283.5,481.5 287.5,481.9 291.5,473.1 295.5,458.5 299.5,441.1 303.5,432.5 307.5,431.1 311.5,435.5 315.5,441.5 319.5,447.1 323.5,452.5 327.5,453.1 331.5,451.1 335.5,449.5 339.5,455.5 343.5,461.9 347.5,461.9 351.5,455.1 355.5,449.9 359.5,449.5 363.5,449.9 367.5,447.5 371.5,445.1 375.5,444.5 379.5,446.5 383.5,453.5 387.5,461.5 391.5,468.5 395.5,470.5 399.5,473.5 403.5,474.5 407.5,480.5 411.5,485.9 415.5,491.1 419.5,493.9 423.5,493.1 427.5,486.5 431.5,477.9 435.5,469.5 439.5,461.9 443.5,455.5 447.5,449.1 451.5,446.5 455.5,447.1 459.5,451.5 463.5,458.5 467.5,474.5 471.5,486.5 475.5,494.5 479.5,494.5 483.5,483.5 487.5,465.5 491.5,445.5 495.5,437.9 499.5,435.9 503.5,438.5 507.5,441.1 511.5,448.5 515.5,449.9 519.5,448.5 523.5,441.5 527.5,439.1 531.5,442.5 535.5,451.1 539.5,466.5 543.5,481.5 547.5,494.5 551.5,499.5 555.5,501.5 559.5,498.5 563.5,496.5 567.5,488.5 571.5,474.5 575.5,461.5 579.5,459.1 583.5,467.9 587.5,476.5 591.5,481.5 595.5,479.1 599.5,475.9 603.5,475.5 607.5,479.9 611.5,485.1" fill="none" stroke="#ff0000" stroke-width="1" stroke-dasharray="2.5 3"/>
<polyline points="3.5,432.5 7.5,435.0 11.5,437.5 15.5,441.5 19.5,445.5 23.5,461.5 27.5,471.0 31.5,463.5 35.5,446.5 39.5,444.5 43.5,442.0 47.5,442.0 51.5,449.5 55.5,466.5 59.5,482.5 63.5,494.5 67.5,488.5 71.5,479.5 75.5,460.5 79.5,437.5 83.5,440.5 87.5,439.5 91.5,450.5 95.5,467.5 99.5,482.5 103.5,492.5 107.5,497.5 111.5,501.0 115.5,497.5 119.5,478.5 123.5,469.5 127.5,458.0 131.5,461.9 135.5,457.9 139.5,468.5 143.5,476.5 147.5,460.5 151.5,451.5 155.5,445.1 159.5,444.9 163.5,444.9 167.5,448.5 171.5,455.5 175.5,461.9 179.5,455.5 183.5,449.1 187.5,441.9 191.5,439.5 195.5,451.5 199.5,489.1 203.5,489.1 207.5,479.5 211.5,470.5 215.5,465.5 219.5,461.5 223.5,459.9 227.5,469.5 231.5,493.9 235.5,485.5 239.5,471.9 243.5,471.1 247.5,479.1 251.5,481.1 255.5,485.5 259.5,482.1 263.5,483.9 267.5,477.1 271.5,475.5 275.5,479.5 279.5,482.5 283.5,483.1 287.5,482.5 291.5,454.5 295.5,438.5 299.5,429.9 303.5,429.9 307.5,434.5 311.5,441.5 315.5,448.5 319.5,450.5 323.5,458.5 327.5,449.5 331.5,445.5 335.5,452.5 339.5,467.5 343.5,466.5 347.5,451.5 351.5,446.5 355.5,451.1 359.5,450.5 363.5,449.1 367.5,443.1 371.5,443.1 375.5,447.1 379.5,449.1 383.5,463.5 387.5,471.9 391.5,476.5 395.5,467.9 399.5,474.5 403.5,479.5 407.5,487.5 411.5,491.1 415.5,494.9 419.5,494.9 423.5,489.5 427.5,475.5 431.5,467.5 435.5,464.5 439.5,453.5 443.5,449.1 447.5,443.9 451.5,447.1 455.5,449.1 459.5,457.5 463.5,468.5 467.5,496.5 471.5,494.1 475.5,494.9 479.5,494.5 483.5,460.5 487.5,441.5 491.5,433.9 495.5,437.5 499.5,436.5 503.5,442.5 507.5,443.9 511.5,458.5 515.5,446.5 519.5,441.5 523.5,435.9 527.5,439.5 531.5,450.5 535.5,462.5 539.5,486.5 543.5,494.5 547.5,503.1 551.5,501.1 555.5,498.5 559.5,496.5 563.5,493.5 567.5,474.5 571.5,453.9 575.5,453.9 579.5,467.9 583.5,481.5 587.5,481.9 591.5,480.5 595.5,475.5 599.5,471.5 603.5,479.9 607.5,488.5 611.5,486.5" fill="none" stroke="#20b2aa" stroke-width="1"/>
<polyline points="3.5,574.1 10.5,571.5 20.5,568.5 30.5,564.5 40.5,559.5 45.5,557.0 50.5,554.5 55.5,552.5 60.5,550.5 65.5,549.0 70.5,547.5 75.5,546.0 80.5,545.0 85.5,544.2 90.5,544.0 100.5,543.8 110.5,544.0 115.5,544.5 120.5,545.5 125.5,546.0 130.5,547.0 135.5,547.5 140.5,548.2 150.5,548.0 155.5,547.0 160.5,546.0 165.5,544.5 170.5,543.0 175.5,541.5 180.5,540.0 185.5,538.5 190.5,537.0 195.5,536.0 200.5,535.3 205.5,534.9 210.5,535.1 215.5,535.5 220.5,536.1 225.5,537.0 230.5,538.5 235.5,540.0 240.5,541.5 245.5,543.0 250.5,544.5 255.5,546.0 260.5,547.5 265.5,549.5 270.5,550.0 275.5,551.0 280.5,552.0 285.5,552.5 290.5,553.5 295.5,553.5 300.5,553.0 305.5,552.0 310.5,550.5 315.5,549.0 320.5,546.5 325.5,543.5 330.5,540.5 335.5,537.5 340.5,534.5 345.5,532.0 350.5,529.5 355.5,527.5 360.5,525.5 365.5,524.0 370.5,522.5 375.5,521.5 380.5,521.0 385.5,520.7 390.5,520.7 395.5,521.0 400.5,522.0 405.5,523.5 410.5,525.0 415.5,527.0 420.5,529.5 425.5,532.5 430.5,535.5 435.5,538.5 440.5,541.5 443.5,543.5 447.5,544.0 455.5,543.5 460.5,542.5 465.5,541.0 475.5,540.0 485.5,540.0 490.5,539.5 495.5,539.0 500.5,538.0 505.5,537.0 510.5,536.0 515.5,534.5 520.5,532.5 525.5,530.5 530.5,529.0 535.5,527.5 540.5,527.0 545.5,527.5 550.5,529.0 555.5,531.5 560.5,535.0 565.5,539.0 570.5,543.5 575.5,548.0 580.5,552.5 585.5,555.5 590.5,558.0 595.5,559.5 600.5,561.0 605.5,562.5 610.5,564.0 612.5,564.5" fill="none" stroke="#ff0000" stroke-width="1" stroke-dasharray="2.5 3"/>
</g>
<text x="642.5" y="46.0" textLength="47.0" lengthAdjust="spacingAndGlyphs">1.35125</text>
<text x="642.5" y="95.0" textLength="47.0" lengthAdjust="spacingAndGlyphs">1.34270</text>
<text x="642.5" y="144.0" textLength="47.0" lengthAdjust="spacingAndGlyphs">1.33415</text>
<text x="642.5" y="193.0" textLength="47.0" lengthAdjust="spacingAndGlyphs">1.32560</text>
<text x="642.5" y="242.0" textLength="47.0" lengthAdjust="spacingAndGlyphs">1.31705</text>
<text x="642.5" y="291.0" textLength="47.0" lengthAdjust="spacingAndGlyphs">1.30850</text>
<text x="642.5" y="340.0" textLength="47.0" lengthAdjust="spacingAndGlyphs">1.29995</text>
<g shape-rendering="crispEdges">
<rect x="638" y="78" width="56" height="14" fill="#ff0000"/>
<rect x="638" y="99" width="56" height="14" fill="#ff0000"/>
<rect x="638" y="126" width="56" height="14" fill="#000"/>
<rect x="638" y="138" width="56" height="14" fill="#008000"/>
<rect x="638" y="159" width="56" height="14" fill="#008000"/>
<rect x="638" y="191" width="56" height="14" fill="#008000"/>
</g>
<text x="642.5" y="90.0" textLength="47.0" lengthAdjust="spacingAndGlyphs" class="w">1.34373</text>
<text x="642.5" y="111.0" textLength="47.0" lengthAdjust="spacingAndGlyphs" class="w">1.34004</text>
<text x="642.5" y="138.0" textLength="47.0" lengthAdjust="spacingAndGlyphs" class="w">1.33531</text>
<text x="642.5" y="150.0" textLength="47.0" lengthAdjust="spacingAndGlyphs" class="w">1.33337</text>
<text x="642.5" y="171.0" textLength="47.0" lengthAdjust="spacingAndGlyphs" class="w">1.32961</text>
<text x="642.5" y="203.0" textLength="47.0" lengthAdjust="spacingAndGlyphs" class="w">1.32402</text>
<text x="639.5" y="370.0" textLength="21.6" lengthAdjust="spacingAndGlyphs">100</text>
<text x="639.5" y="383.0" textLength="14.4" lengthAdjust="spacingAndGlyphs">70</text>
<text x="639.5" y="396.0" textLength="14.4" lengthAdjust="spacingAndGlyphs">50</text>
<text x="639.5" y="409.0" textLength="14.4" lengthAdjust="spacingAndGlyphs">30</text>
<text x="639.5" y="422.0" textLength="7.2" lengthAdjust="spacingAndGlyphs">0</text>
<text x="639.5" y="441.0" textLength="21.6" lengthAdjust="spacingAndGlyphs">100</text>
<text x="639.5" y="450.0" textLength="14.4" lengthAdjust="spacingAndGlyphs">80</text>
<text x="639.5" y="475.0" textLength="14.4" lengthAdjust="spacingAndGlyphs">50</text>
<text x="639.5" y="500.0" textLength="14.4" lengthAdjust="spacingAndGlyphs">20</text>
<text x="639.5" y="509.0" textLength="7.2" lengthAdjust="spacingAndGlyphs">0</text>
<text x="639.5" y="528.0" textLength="54.3" lengthAdjust="spacingAndGlyphs">0.003649</text>
<text x="639.5" y="562.0" textLength="25.5" lengthAdjust="spacingAndGlyphs">0.00</text>
<text x="639.5" y="573.0" textLength="58.9" lengthAdjust="spacingAndGlyphs">-0.001619</text>
<text x="640.5" y="562.0" textLength="7.0" lengthAdjust="spacingAndGlyphs">0</text>
<text x="21.0" y="17.0" textLength="63.0" lengthAdjust="spacingAndGlyphs">GBPUSD,H1</text>
<text x="93.0" y="17.0" textLength="47.0" lengthAdjust="spacingAndGlyphs">1.33411</text>
<text x="143.0" y="17.0" textLength="47.0" lengthAdjust="spacingAndGlyphs">1.33602</text>
<text x="193.0" y="17.0" textLength="47.0" lengthAdjust="spacingAndGlyphs">1.33380</text>
<text x="243.0" y="17.0" textLength="47.0" lengthAdjust="spacingAndGlyphs">1.33531</text>
<text x="7.0" y="372.0" textLength="43.3" lengthAdjust="spacingAndGlyphs">RSI(21)</text>
<text x="52.5" y="372.0" textLength="47.0" lengthAdjust="spacingAndGlyphs">44.3626</text>
<text x="107.0" y="372.0" textLength="47.5" lengthAdjust="spacingAndGlyphs">-&gt;MA(9)</text>
<text x="157.5" y="372.0" textLength="47.0" lengthAdjust="spacingAndGlyphs">45.8841</text>
<text x="7.5" y="443.0" textLength="72.0" lengthAdjust="spacingAndGlyphs">Stoch(5,3,3)</text>
<text x="82.3" y="443.0" textLength="46.0" lengthAdjust="spacingAndGlyphs">31.9728</text>
<text x="131.8" y="443.0" textLength="45.5" lengthAdjust="spacingAndGlyphs">32.1931</text>
<text x="7.5" y="530.0" textLength="85.0" lengthAdjust="spacingAndGlyphs">MACD(12,26,9)</text>
<text x="96.5" y="530.0" textLength="56.0" lengthAdjust="spacingAndGlyphs">-0.001151</text>
<text x="157.3" y="530.0" textLength="57.0" lengthAdjust="spacingAndGlyphs">-0.000573</text>
<text x="1.5" y="592.0" textLength="73.0" lengthAdjust="spacingAndGlyphs">25 Aug 2020</text>
<text x="98.0" y="592.0" textLength="76.3" lengthAdjust="spacingAndGlyphs">26 Aug 04:00</text>
<text x="194.0" y="592.0" textLength="76.3" lengthAdjust="spacingAndGlyphs">27 Aug 04:00</text>
<text x="290.0" y="592.0" textLength="76.3" lengthAdjust="spacingAndGlyphs">28 Aug 04:00</text>
<text x="386.0" y="592.0" textLength="76.3" lengthAdjust="spacingAndGlyphs">31 Aug 04:00</text>
<text x="482.0" y="592.0" textLength="68.0" lengthAdjust="spacingAndGlyphs">1 Sep 04:00</text>
<text x="578.0" y="592.0" textLength="67.5" lengthAdjust="spacingAndGlyphs">2 Sep 04:00</text>
</svg></body></html>
